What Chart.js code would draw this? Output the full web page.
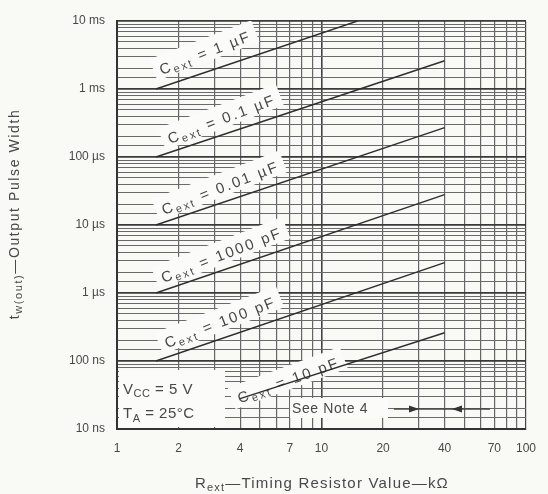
<!DOCTYPE html>
<html>
<head>
<meta charset="utf-8">
<script src="https://cdn.jsdelivr.net/npm/chart.js@4"></script>
<style>
html, body { margin: 0; padding: 0; background: #f9f9f6; }
#wrap { width: 548px; height: 494px; }
</style>
</head>
<body>
<div id="wrap"><canvas id="myChart" width="548" height="494"></canvas></div>
<script>
const capLabels = ['1 µF', '0.1 µF', '0.01 µF', '1000 pF', '100 pF', '10 pF']
const startR = [1.55, 1.55, 1.55, 1.55, 1.55, 4]
const endR = [15, 40, 40, 40, 40, 40]
const startTw = [1e-3, 1e-4, 1e-5, 1e-6, 1e-7, 2.8e-8]
const endTw = [1e-2, 2.6e-3, 2.7e-4, 2.8e-5, 2.8e-6, 2.6e-7]
// where the Cext labels sit (kOhm, seconds)
const labelR = [2.7, 3.25, 3.2, 3.25, 3.2, 6.9]
const labelTw = [3.4e-3, 3.6e-4, 3.5e-5, 3.6e-6, 3.7e-7, 5.2e-8]

const xTickVals = [1, 2, 4, 7, 10, 20, 40, 70, 100]
const xGrid = [1, 2, 3, 4, 5, 6, 7, 8, 9, 10, 20, 30, 40, 50, 60, 70, 80, 90, 100]
const yTickVals = [1e-8, 1e-7, 1e-6, 1e-5, 1e-4, 1e-3, 1e-2]
const yTickLabels = ['10 ns', '100 ns', '1 µs', '10 µs', '100 µs', '1 ms', '10 ms']
const yMinor = [1.5, 2, 3, 4, 5, 6, 7, 8, 9]

const FONT = '"Liberation Sans", Arial, sans-serif'
const INK = '#484848'

const yGrid = []
yTickVals.forEach((d, i) => {
    yGrid.push(d)
    if (i < yTickVals.length - 1) yMinor.forEach(m => yGrid.push(m * d))
})

function findIn(arr, v) {
    for (let i = 0; i < arr.length; i++) {
        if (Math.abs(Math.log10(arr[i]) - Math.log10(v)) < 1e-6) return i
    }
    return -1
}

// draws text made of parts, some of them subscripts
function rich(ctx, parts, x, y, align, spacing) {
    ctx.letterSpacing = (spacing || 0) + 'px'
    let w = 0
    parts.forEach(p => {
        ctx.font = p[1] + 'px ' + FONT
        p.w = ctx.measureText(p[0]).width
        w += p.w
    })
    let cx = align === 'center' ? x - w / 2 : x
    ctx.textAlign = 'left'
    ctx.textBaseline = 'alphabetic'
    parts.forEach(p => {
        ctx.font = p[1] + 'px ' + FONT
        ctx.fillText(p[0], cx, y + (p[2] || 0))
        cx += p.w
    })
    ctx.letterSpacing = '0px'
    return w
}

const labelsPlugin = {
    id: 'capLabels',
    beforeDatasetsDraw(chart) {
        const ctx = chart.ctx
        const xs = chart.scales.x, ys = chart.scales.y
        const area = chart.chartArea
        ctx.save()
        ctx.beginPath()
        ctx.rect(area.left, area.top, area.right - area.left, area.bottom - area.top)
        ctx.clip()
        capLabels.forEach((c, i) => {
            const px = xs.getPixelForValue(labelR[i])
            const py = ys.getPixelForValue(labelTw[i])
            const ang = Math.atan2(ys.getPixelForValue(endTw[i]) - ys.getPixelForValue(startTw[i]),
                xs.getPixelForValue(endR[i]) - xs.getPixelForValue(startR[i]))
            const parts = [['C', 15], ['ext', 11, 3], [' = ' + c, 15]]
            ctx.save()
            ctx.translate(px, py)
            ctx.rotate(ang - 0.04)
            ctx.letterSpacing = '2.2px'
            let w = 0
            parts.forEach(p => { ctx.font = p[1] + 'px ' + FONT; w += ctx.measureText(p[0]).width })
            ctx.fillStyle = '#fbfbf9'
            ctx.fillRect(-w / 2 - 6, -14, w + 12, 23)
            ctx.fillStyle = INK
            rich(ctx, parts, 0, 5, 'center', 2.2)
            ctx.restore()
        })
        ctx.restore()
    },
    afterDraw(chart) {
        const ctx = chart.ctx
        ctx.save()
        ctx.fillStyle = INK
        // axis titles
        rich(ctx, [['R', 15], ['ext', 11, 3], ['\u2014Timing Resistor Value\u2014k\u03a9', 15]], 322, 488, 'center', 1.2)
        ctx.save()
        ctx.translate(19, 214)
        ctx.rotate(-Math.PI / 2)
        rich(ctx, [['t', 14], ['w(out)', 11, 3], ['\u2014Output Pulse Width', 14]], 0, 0, 'center', 1.6)
        ctx.restore()

        // conditions box
        ctx.fillStyle = '#fbfbf9'
        ctx.fillRect(119, 370, 106, 57)
        ctx.fillStyle = INK
        rich(ctx, [['V', 15], ['CC', 11, 3], [' = 5 V', 15]], 123, 394, 'left', 0.5)
        rich(ctx, [['T', 15], ['A', 11, 4], [' = 25\u00b0C', 15]], 123, 418, 'left', 0.5)

        // note marker
        ctx.fillStyle = '#fbfbf9'
        ctx.fillRect(290, 398, 98, 20)
        ctx.fillStyle = INK
        rich(ctx, [['See Note 4', 14]], 292, 413, 'left', 0.6)
        ctx.strokeStyle = '#444'
        ctx.lineWidth = 1.5
        ctx.beginPath()
        ctx.moveTo(394, 409)
        ctx.lineTo(490, 409)
        ctx.stroke()
        ctx.fillStyle = '#333'
        ctx.beginPath()
        ctx.moveTo(419, 409); ctx.lineTo(409, 405.5); ctx.lineTo(409, 412.5); ctx.fill()
        ctx.beginPath()
        ctx.moveTo(452, 409); ctx.lineTo(462, 405.5); ctx.lineTo(462, 412.5); ctx.fill()
        ctx.restore()
    }
}

new Chart("myChart", {
    type: "line",
    data: {
        datasets: capLabels.map((c, i) => ({
            label: c,
            data: [{x: startR[i], y: startTw[i]}, {x: endR[i], y: endTw[i]}],
            borderColor: "#2e2e2e",
            borderWidth: 1.4,
            pointRadius: 0,
            fill: false,
            tension: 0,
        }))
    },
    options: {
        responsive: false,
        animation: false,
        layout: {padding: {top: 21, right: 16, left: 0, bottom: 0}},
        plugins: {legend: {display: false}, tooltip: {enabled: false}},
        scales: {
            x: {
                type: "logarithmic",
                min: 1,
                max: 100,
                afterFit: s => { s.height = 65 },
                afterBuildTicks: s => { s.ticks = xGrid.map(v => ({value: v})) },
                border: {color: "#333", width: 2},
                grid: {
                    drawTicks: false,
                    color: c => (c.tick && findIn([1, 10, 100], c.tick.value) >= 0) ? "#444" : "#666",
                    lineWidth: c => (c.tick && findIn([10], c.tick.value) >= 0) ? 1.6 : 1.2,
                },
                ticks: {
                    autoSkip: false,
                    maxRotation: 0,
                    padding: 12,
                    color: INK,
                    font: {family: FONT, size: 12},
                    callback: v => findIn(xTickVals, v) >= 0 ? String(v) : ''
                }
            },
            y: {
                type: "logarithmic",
                min: 1e-8,
                max: 1e-2,
                afterFit: s => { s.width = 117 },
                afterBuildTicks: s => { s.ticks = yGrid.map(v => ({value: v})) },
                border: {color: "#333", width: 2},
                grid: {
                    drawTicks: false,
                    color: c => (c.tick && findIn(yTickVals, c.tick.value) >= 0) ? "#3a3a3a" : "#6a6a6a",
                    lineWidth: c => (c.tick && findIn(yTickVals, c.tick.value) >= 0) ? 1.8 : 1,
                },
                ticks: {
                    autoSkip: false,
                    padding: 12,
                    color: INK,
                    font: {family: FONT, size: 12},
                    callback: v => {
                        const k = findIn(yTickVals, v)
                        return k >= 0 ? yTickLabels[k] : ''
                    }
                }
            }
        }
    },
    plugins: [labelsPlugin]
});
</script>
</body>
</html>
